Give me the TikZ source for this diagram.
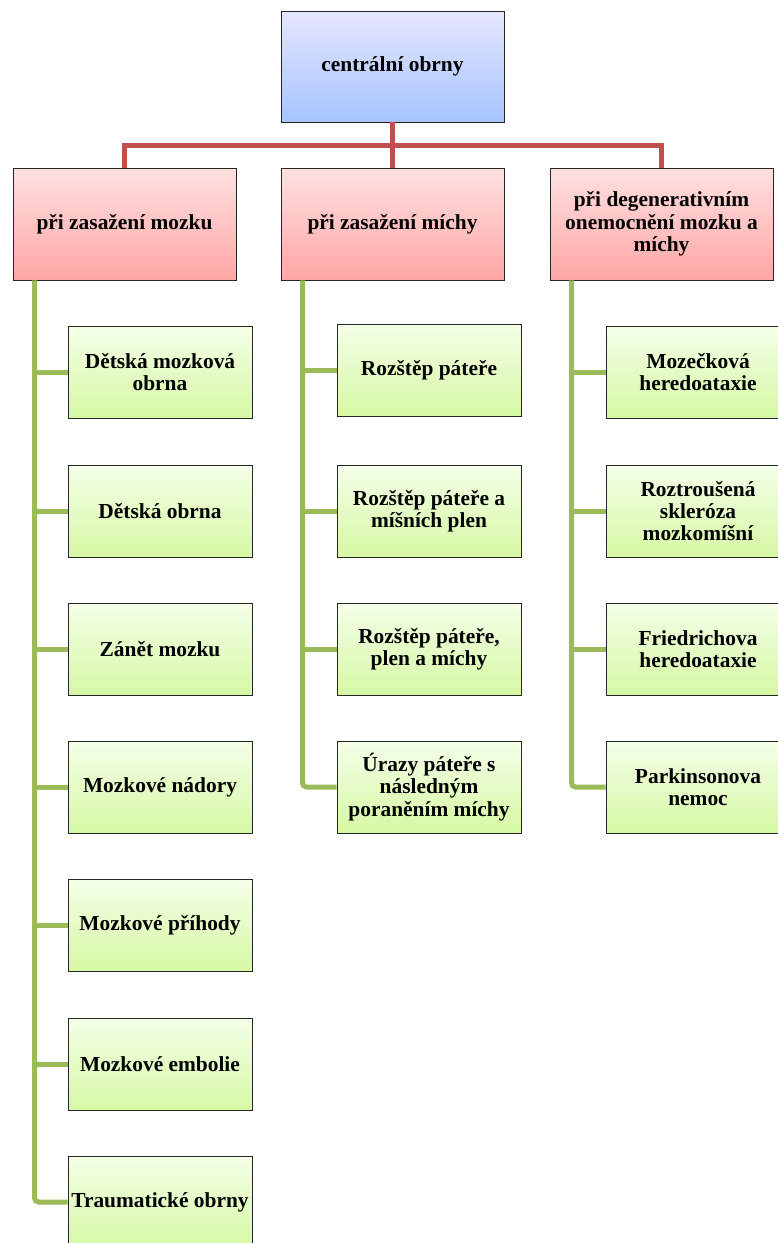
\documentclass[tikz,border=0pt]{standalone}
\usepackage{fontspec}
\setmainfont{Liberation Serif}
\begin{document}
\begin{tikzpicture}[
  x=1pt, y=-1pt,
  rootbox/.style={draw=black!85, line width=0.9pt, minimum height=111pt, minimum width=223pt,
                  align=center, font=\fontsize{21.4}{22.3}\selectfont\bfseries,
                  top color=blue!10!white, bottom color={rgb,255:red,166;green,196;blue,255}},
  catbox/.style={draw=black!85, line width=0.9pt, minimum height=112pt, minimum width=223pt,
                 align=center, font=\fontsize{21.4}{22.3}\selectfont\bfseries,
                 top color={rgb,255:red,255;green,224;blue,224}, bottom color={rgb,255:red,255;green,166;blue,166}},
  leafbox/.style={draw=black!85, line width=0.9pt, minimum height=92pt, minimum width=184pt,
                  align=center, font=\fontsize{21.4}{22.3}\selectfont\bfseries, inner sep=1pt,
                  top color={rgb,255:red,244;green,255;blue,232}, bottom color={rgb,255:red,214;green,248;blue,164}},
  conn/.style={line width=5pt, draw={rgb,255:red,192;green,80;blue,77}},
  subconn/.style={line width=5pt, draw={rgb,255:red,155;green,187;blue,89}, rounded corners=4pt},
]
\useasboundingbox (0,0) rectangle (778,1243);
\clip (0,0) rectangle (778,1243);

% Level 0: Root
\node[rootbox] (root) at (392.5,66.5) {centrální obrny};

% Level 1: Categories
\node[catbox] (catA) at (124.5,224) {při zasažení mozku};
\node[catbox] (catB) at (392.5,224) {při zasažení míchy};
\node[catbox] (catC) at (661.5,224) {při degenerativním\\onemocnění mozku a\\míchy};

% Bracket from Root to category nodes
\coordinate (brR) at (392.5,145);
\draw[conn] (root.south) -- (catB.north);
\draw[conn] (catA.north) |- (brR -| catC.north) -- (catC.north);

% Level 2: under "při zasažení mozku"
\node[leafbox] (mozA) at (160,372)  {Dětská mozková\\obrna};
\node[leafbox] (mozB) at (160,511)  {Dětská obrna};
\node[leafbox] (mozC) at (160,649)  {Zánět mozku};
\node[leafbox] (mozD) at (160,787)  {Mozkové nádory};
\node[leafbox] (mozE) at (160,925)  {Mozkové příhody};
\node[leafbox] (mozF) at (160,1064) {Mozkové embolie};
\node[leafbox] (mozG) at (160,1202) {Traumatické obrny};

% Level 2: under "při zasažení míchy"
\node[leafbox] (michA) at (429,370) {Rozštěp páteře};
\node[leafbox] (michB) at (429,511) {Rozštěp páteře a\\míšních plen};
\node[leafbox] (michC) at (429,649) {Rozštěp páteře,\\plen a míchy};
\node[leafbox] (michD) at (429,787) {Úrazy páteře s\\následným\\poraněním míchy};

% Level 2: under degenerative diseases
\node[leafbox] (degA) at (698,372) {Mozečková\\heredoataxie};
\node[leafbox] (degB) at (698,511) {Roztroušená\\skleróza\\mozkomíšní};
\node[leafbox] (degC) at (698,649) {Friedrichova\\heredoataxie};
\node[leafbox] (degD) at (698,787) {Parkinsonova\\nemoc};

% Trunks from categories to leaves
\coordinate (trA) at ([xshift=22pt]catA.south west);
\draw[subconn] (trA) |- (mozG.west);
\draw[subconn] (trA |- mozA.west) -- (mozA.west);
\draw[subconn] (trA |- mozB.west) -- (mozB.west);
\draw[subconn] (trA |- mozC.west) -- (mozC.west);
\draw[subconn] (trA |- mozD.west) -- (mozD.west);
\draw[subconn] (trA |- mozE.west) -- (mozE.west);
\draw[subconn] (trA |- mozF.west) -- (mozF.west);

\coordinate (trB) at ([xshift=22pt]catB.south west);
\draw[subconn] (trB) |- (michD.west);
\draw[subconn] (trB |- michA.west) -- (michA.west);
\draw[subconn] (trB |- michB.west) -- (michB.west);
\draw[subconn] (trB |- michC.west) -- (michC.west);

\coordinate (trC) at ([xshift=22pt]catC.south west);
\draw[subconn] (trC) |- (degD.west);
\draw[subconn] (trC |- degA.west) -- (degA.west);
\draw[subconn] (trC |- degB.west) -- (degB.west);
\draw[subconn] (trC |- degC.west) -- (degC.west);

\end{tikzpicture}
\end{document}
